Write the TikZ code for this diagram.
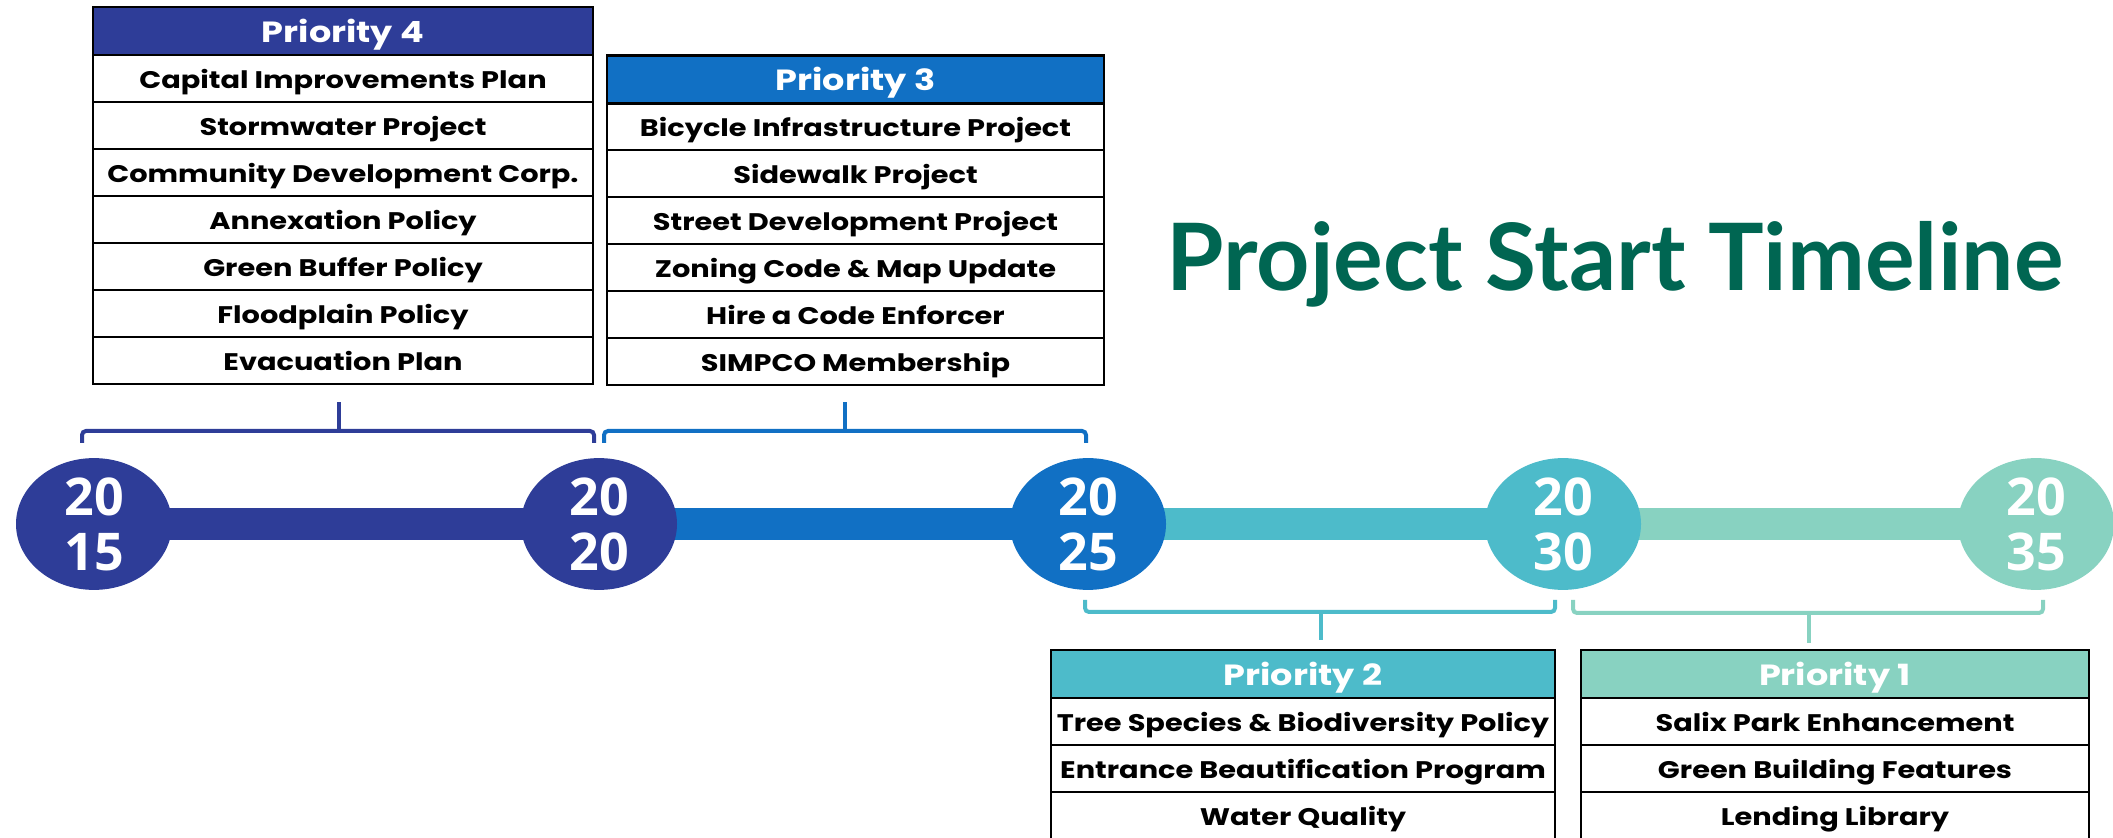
\documentclass[tikz,border=0pt]{standalone}
\usepackage{fontspec}
\setmainfont{Poppins}
\newfontfamily\cellfont[FakeStretch=1.2]{Poppins}
\newfontfamily\yearfont{Open Sans}
\newfontfamily\titlefont{Lato}
\usetikzlibrary{arrows.meta, positioning, shapes.geometric, calc, backgrounds}

\begin{document}
\begin{tikzpicture}[x=0.5pt, y=-0.5pt,
  cell/.style={rectangle, draw=black, line width=1.2pt, inner sep=0pt, minimum width=#1, minimum height=23.5pt,
    text height=10pt, text depth=0pt, font=\cellfont\fontsize{12}{14}\selectfont\bfseries},
  head/.style={cell=#1, minimum height=24pt, text height=11.5pt, text=white, font=\cellfont\fontsize{14.6}{18}\selectfont\bfseries},
  year/.style={ellipse, inner sep=0pt, minimum width=78pt, minimum height=63.5pt, text=white, align=center,
    font=\yearfont\fontsize{26}{27.5}\selectfont\bfseries},
  brace/.style={line width=2pt, rounded corners=2pt},
  bar/.style={line width=16pt}]
  % Define colors
  \definecolor{darkblue}{RGB}{46,61,152}
  \definecolor{midblue}{RGB}{17,112,196}
  \definecolor{tealblue}{RGB}{77,187,202}
  \definecolor{mintgreen}{RGB}{136,210,193}
  \definecolor{titlegreen}{RGB}{0,102,82}

  \useasboundingbox (0,0) rectangle (2113,838);

  % Title
  \node[anchor=base, text=titlegreen, font=\titlefont\fontsize{46.5}{50}\selectfont\bfseries] (title) at (1615,291) {Project Start Timeline};

  % Priority 4 table
  \node[head=250pt, fill=darkblue] (p4head) at (343,31) {Priority 4};
  \node[cell=250pt] (p4r1) at (343,78.5) {Capital Improvements Plan};
  \node[cell=250pt] (p4r2) at (343,125.5) {Stormwater Project};
  \node[cell=250pt] (p4r3) at (343,172.5) {Community Development Corp.};
  \node[cell=250pt] (p4r4) at (343,219.5) {Annexation Policy};
  \node[cell=250pt] (p4r5) at (343,266.5) {Green Buffer Policy};
  \node[cell=250pt] (p4r6) at (343,313.5) {Floodplain Policy};
  \node[cell=250pt] (p4r7) at (343,360.5) {Evacuation Plan};

  % Priority 3 table
  \node[head=248.5pt, fill=midblue] (p3head) at (855.5,79.5) {Priority 3};
  \node[cell=248.5pt] (p3r1) at (855.5,126.5) {Bicycle Infrastructure Project};
  \node[cell=248.5pt] (p3r2) at (855.5,173.5) {Sidewalk Project};
  \node[cell=248.5pt] (p3r3) at (855.5,220.5) {Street Development Project};
  \node[cell=248.5pt] (p3r4) at (855.5,267.5) {Zoning Code \& Map Update};
  \node[cell=248.5pt] (p3r5) at (855.5,314.5) {Hire a Code Enforcer};
  \node[cell=248.5pt] (p3r6) at (855.5,361.5) {SIMPCO Membership};

  % Brackets above the timeline
  \draw[brace, darkblue] (82,443) -- (82,431) -- (594,431) -- (594,443);
  \draw[brace, darkblue] (339,431) -- (339,402);
  \draw[brace, midblue] (604,443) -- (604,431) -- (1086,431) -- (1086,443);
  \draw[brace, midblue] (845,431) -- (845,402);

  % Years
  \node[year, fill=darkblue] (y2015) at (94,524) {20\\15};
  \node[year, fill=darkblue] (y2020) at (599,524) {20\\20};
  \node[year, fill=midblue] (y2025) at (1088,524) {20\\25};
  \node[year, fill=tealblue] (y2030) at (1563,524) {20\\30};
  \node[year, fill=mintgreen] (y2035) at (2036,524) {20\\35};

  % Timeline bars
  \begin{pgfonlayer}{background}
    \draw[bar, darkblue] (y2015.center) -- (y2020.center);
    \draw[bar, midblue] (y2020.center) -- (y2025.center);
    \draw[bar, tealblue] (y2025.center) -- (y2030.center);
    \draw[bar, mintgreen] (y2030.center) -- (y2035.center);
  \end{pgfonlayer}

  % Brackets below the timeline
  \draw[brace, tealblue] (1085,600) -- (1085,612) -- (1555,612) -- (1555,600);
  \draw[brace, tealblue] (1321,612) -- (1321,640);
  \draw[brace, mintgreen] (1573,600) -- (1573,613) -- (2043,613) -- (2043,600);
  \draw[brace, mintgreen] (1809,613) -- (1809,643);

  % Priority 2 table
  \node[head=252pt, fill=tealblue] (p2head) at (1303,674) {Priority 2};
  \node[cell=252pt] (p2r1) at (1303,721.5) {Tree Species \& Biodiversity Policy};
  \node[cell=252pt] (p2r2) at (1303,768.5) {Entrance Beautification Program};
  \node[cell=252pt] (p2r3) at (1303,815.5) {Water Quality};

  % Priority 1 table
  \node[head=254pt, fill=mintgreen] (p1head) at (1835,674) {Priority 1};
  \node[cell=254pt] (p1r1) at (1835,721.5) {Salix Park Enhancement};
  \node[cell=254pt] (p1r2) at (1835,768.5) {Green Building Features};
  \node[cell=254pt] (p1r3) at (1835,815.5) {Lending Library};

\end{tikzpicture}
\end{document}
